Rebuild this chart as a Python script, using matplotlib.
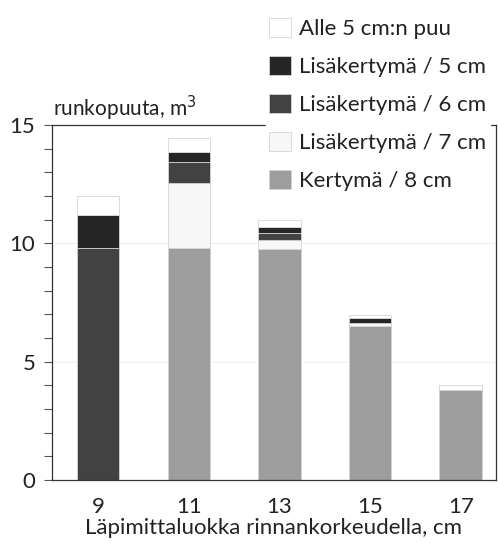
import matplotlib.pyplot as plt
from matplotlib.ticker import MultipleLocator

plt.rcParams['font.family'] = ['Lato', 'DejaVu Sans']

# diameter classes (cm) and stacked volumes (m3), bottom to top
classes = [9, 11, 13, 15, 17]
kert8 = [0.0, 9.82, 9.74, 6.50, 3.80]
lisa7 = [0.0, 2.74, 0.40, 0.12, 0.0]
lisa6 = [9.80, 0.87, 0.30, 0.0, 0.0]
lisa5 = [1.40, 0.41, 0.26, 0.22, 0.0]
alle5 = [0.80, 0.60, 0.28, 0.13, 0.20]

series = [
    ("Kertymä / 8 cm", kert8, "#9d9d9d"),
    ("Lisäkertymä / 7 cm", lisa7, "#f7f7f7"),
    ("Lisäkertymä / 6 cm", lisa6, "#424242"),
    ("Lisäkertymä / 5 cm", lisa5, "#262626"),
    ("Alle 5 cm:n puu", alle5, "#ffffff"),
]

fig = plt.figure(figsize=(4.98, 5.43), dpi=100)
ax = fig.add_axes([0.1044, 0.116, 0.8916, 0.6538])

bottom = [0.0] * len(classes)
handles = []
for label, vals, color in series:
    b = ax.bar(classes, vals, width=0.94, bottom=bottom, color=color,
               edgecolor="#d4d4d4", linewidth=0.6, label=label)
    handles.append(b)
    bottom = [x + y for x, y in zip(bottom, vals)]

ax.set_xlim(7.98, 17.78)
ax.set_ylim(0, 15)
ax.yaxis.set_major_locator(MultipleLocator(5))
ax.yaxis.set_minor_locator(MultipleLocator(1))
ax.set_xticks(classes)
ax.tick_params(axis="x", length=0, labelsize=16, pad=12, labelcolor="#222222")
ax.tick_params(axis="y", which="both", direction="out", length=6, width=0.8,
               labelsize=16, pad=6, color="#555555", labelcolor="#222222")
for y in (5, 10):
    ax.axhline(y, color="#f0f0f0", linewidth=0.8, zorder=0)
for s in ax.spines.values():
    s.set_linewidth(0.9)
    s.set_color("#333333")

ax.set_xlabel("Läpimittaluokka rinnankorkeudella, cm", fontsize=16,
              labelpad=1, color="#222222")
ax.text(0.003, 1.005, "runkopuuta, m$^3$", transform=ax.transAxes,
        fontsize=15, ha="left", va="bottom", color="#222222")

leg = ax.legend(handles[::-1], [s[0] for s in series][::-1],
                loc="upper left", bbox_to_anchor=(0.512, 0.994),
                bbox_transform=fig.transFigure, fontsize=16,
                frameon=True, fancybox=False, edgecolor="white",
                facecolor="white", framealpha=1.0,
                handlelength=0.95, handleheight=0.95,
                handletextpad=0.4, labelspacing=0.76, borderpad=0.15)
for t in leg.get_texts():
    t.set_color("#222222")

fig.savefig("out.png", dpi=100)
